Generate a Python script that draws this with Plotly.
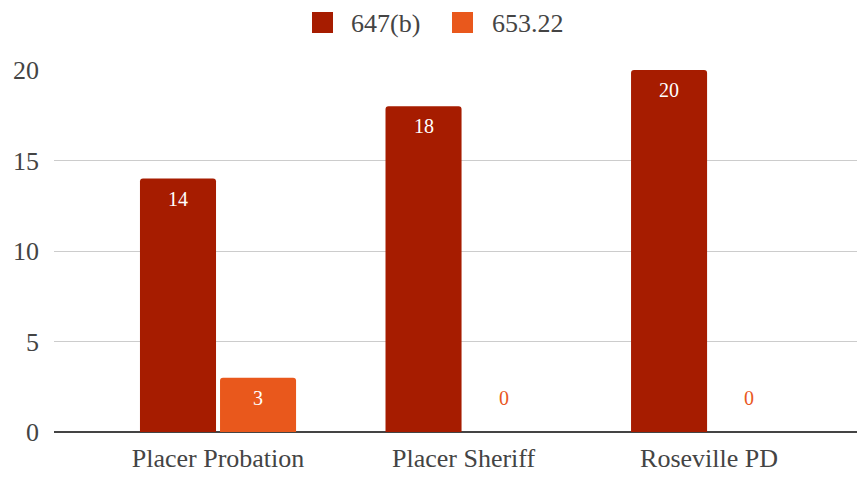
import plotly.graph_objects as go

categories = ["Placer Probation", "Placer Sheriff", "Roseville PD"]
series_names = ["647(b)", "653.22"]
series_values = {
    "647(b)": [14, 18, 20],
    "653.22": [3, 0, 0],
}
colors = {"647(b)": "#a61c00", "653.22": "#e9581c"}
y_ticks = [0, 5, 10, 15, 20]

FONT = "Liberation Serif"
BARGAP = 0.348
BARGROUPGAP = 0.05

# page has an 8px body margin; figure is sized/margined to compensate
W, H = 857, 470
ML, MT, MB, MR = 46, 62, 46, 0
PW, PH = W - ML - MR, H - MT - MB

fig = go.Figure()
xs = list(range(len(categories)))
for name in series_names:
    fig.add_trace(go.Bar(
        x=xs, y=series_values[name], name=name,
        marker=dict(color=colors[name], line=dict(width=0)),
        showlegend=False, hoverinfo="skip",
    ))

n = len(series_names)
slot = (1 - BARGAP) / n
annotations = []
for i, name in enumerate(series_names):
    off = -(1 - BARGAP) / 2 + slot * (i + 0.5)
    for xi, v in zip(xs, series_values[name]):
        if v > 0:
            annotations.append(dict(x=xi + off, y=v, xref="x", yref="y", text=str(v),
                                    showarrow=False, yshift=-20,
                                    font=dict(family=FONT, size=20, color="white")))
        else:
            annotations.append(dict(x=xi + off, y=v, xref="x", yref="y", text=str(v),
                                    showarrow=False, yshift=34,
                                    font=dict(family=FONT, size=20, color=colors[name])))

# legend drawn at the top (page coords of reference, minus 8px body margin)
def px2paper_x(px):
    return (px - 8 - ML) / PW

def px2paper_y(py):
    return (H - MB - (py - 8)) / PH

shapes = []
legend_items = [(312, 349), (452, 490)]
for (sx, tx), name in zip(legend_items, series_names):
    shapes.append(dict(type="rect", xref="paper", yref="paper",
                       x0=px2paper_x(sx), x1=px2paper_x(sx + 21),
                       y0=px2paper_y(33), y1=px2paper_y(12),
                       fillcolor=colors[name], line=dict(width=0), layer="above"))
    annotations.append(dict(x=px2paper_x(tx), y=px2paper_y(23), xref="paper", yref="paper",
                            text=name, showarrow=False, xanchor="left", yanchor="middle",
                            font=dict(family=FONT, size=26, color="#444444")))

fig.update_layout(
    width=W, height=H,
    margin=dict(l=ML, r=MR, t=MT, b=MB, pad=0),
    paper_bgcolor="white", plot_bgcolor="white",
    barmode="group", bargap=BARGAP, bargroupgap=BARGROUPGAP,
    barcornerradius=3,
    font=dict(family=FONT, size=26, color="#444444"),
    annotations=annotations, shapes=shapes,
    showlegend=False,
)
fig.update_xaxes(
    tickmode="array", tickvals=xs, ticktext=categories,
    range=[-0.668, 2.635], showgrid=False, showline=False, ticks="",
    tickfont=dict(family=FONT, size=26, color="#444444"),
    ticklabelstandoff=8, fixedrange=True,
)
fig.update_yaxes(
    range=[0, 20], tickmode="array", tickvals=y_ticks,
    showgrid=True, gridcolor="#cccccc", gridwidth=1,
    zeroline=True, zerolinecolor="#444444", zerolinewidth=2,
    showline=False, ticks="", ticklabelstandoff=14,
    tickfont=dict(family=FONT, size=26, color="#444444"), fixedrange=True,
)

fig.write_html("out.html")
